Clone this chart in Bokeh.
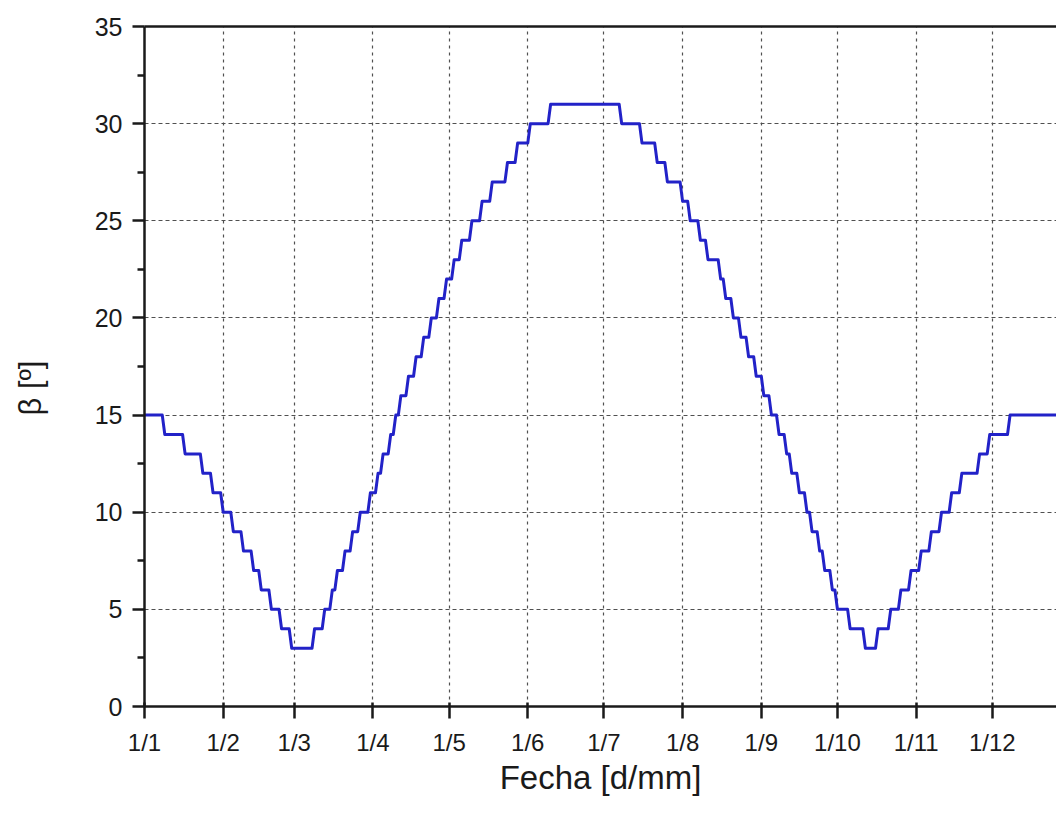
from bokeh.plotting import figure
from bokeh.models import Range1d, FixedTicker, LinearAxis, ColumnDataSource
from bokeh.embed import file_html
from bokeh.resources import INLINE

# Month ticks (day of year, Jan 1 = 0) and labels
month_days = [0, 31, 59, 90, 120, 151, 181, 212, 243, 273, 304, 334]
month_labels = ["1/1", "1/2", "1/3", "1/4", "1/5", "1/6", "1/7", "1/8", "1/9", "1/10", "1/11", "1/12"]

# Step levels of beta: value, first day and last day at that value
level_beta = [15, 14, 13, 12, 11, 10, 9, 8, 7, 6, 5, 4, 3,
              4, 5, 6, 7, 8, 9, 10, 11, 12, 13, 14, 15, 16, 17, 18, 19, 20, 21, 22, 23, 24, 25, 26, 27, 28, 29, 30, 31,
              30, 29, 28, 27, 26, 25, 24, 23, 22, 21, 20, 19, 18, 17, 16, 15, 14, 13, 12, 11, 10, 9, 8, 7, 6, 5, 4, 3,
              4, 5, 6, 7, 8, 9, 10, 11, 12, 13, 14, 15]
level_start = [0, 8, 16, 23, 27, 31, 35, 39, 43, 46, 50, 54, 58,
               67, 71, 74, 76, 79, 82, 85, 89, 92, 94, 97, 99, 101, 104, 107, 110, 113, 116, 119, 122, 125, 129, 133, 137, 143, 147, 152, 160,
               188, 196, 202, 206, 212, 215, 219, 222, 227, 229, 232, 235, 238, 241, 244, 247, 250, 253, 255, 258, 261, 263, 266, 268, 271, 273, 278, 284,
               289, 294, 298, 302, 306, 310, 314, 318, 322, 329, 333, 341]
level_end = [7, 15, 22, 26, 30, 34, 38, 42, 45, 49, 53, 57, 66,
             70, 73, 75, 78, 81, 84, 88, 91, 93, 96, 98, 100, 103, 106, 109, 112, 115, 118, 121, 124, 128, 132, 136, 142, 146, 151, 159, 187,
             195, 201, 205, 211, 214, 218, 221, 226, 228, 231, 234, 237, 240, 243, 246, 249, 252, 254, 257, 260, 262, 265, 267, 270, 272, 277, 283, 288,
             293, 297, 301, 305, 309, 313, 317, 321, 328, 332, 340, 364]

y_ticks = [0, 5, 10, 15, 20, 25, 30, 35]
y_minor = [2.5, 7.5, 12.5, 17.5, 22.5, 27.5, 32.5]

xs, ys = [], []
for b, s, e in zip(level_beta, level_start, level_end):
    xs += [s, e]
    ys += [b, b]
src = ColumnDataSource(dict(x=xs, y=ys))

FONT = "Liberation Sans"
INK = "#1a1a1a"
W, H = 1056, 801
p = figure(width=W, height=H, output_backend="svg", toolbar_location=None,
           x_range=Range1d(0, 359.3), y_range=Range1d(0, 35),
           min_border_left=144, min_border_right=0, min_border_top=26, min_border_bottom=95,
           background_fill_color="white", border_fill_color="white")
p.outline_line_color = None

p.line("x", "y", source=src, line_color="#2222c8", line_width=3, line_join="round")

# x axis
xa = p.xaxis[0]
xa.ticker = FixedTicker(ticks=month_days)
xa.major_label_overrides = {d: l for d, l in zip(month_days, month_labels)}
xa.major_label_text_font = FONT
xa.major_label_text_font_size = "24px"
xa.major_label_text_color = INK
xa.major_label_standoff = 10
xa.major_tick_in = 4
xa.major_tick_out = 12
xa.minor_tick_in = 0
xa.minor_tick_out = 0
xa.axis_line_width = 2.5
xa.major_tick_line_width = 2.5
xa.axis_line_color = INK
xa.major_tick_line_color = INK
xa.axis_label = "Fecha [d/mm]"
xa.axis_label_text_font = FONT
xa.axis_label_text_font_size = "33px"
xa.axis_label_text_font_style = "normal"
xa.axis_label_text_color = INK
xa.axis_label_standoff = 0

# y axis
ya = p.yaxis[0]
ya.ticker = FixedTicker(ticks=y_ticks, minor_ticks=y_minor)
ya.major_label_text_font = FONT
ya.major_label_text_font_size = "25px"
ya.major_label_text_color = INK
ya.major_label_standoff = 10
ya.major_tick_in = 0
ya.major_tick_out = 12
ya.minor_tick_in = 0
ya.minor_tick_out = 7
ya.axis_line_width = 2.5
ya.major_tick_line_width = 2.5
ya.minor_tick_line_width = 2.5
ya.axis_line_color = INK
ya.major_tick_line_color = INK
ya.minor_tick_line_color = INK
ya.axis_label = "β [º]\u00a0\u00a0\u00a0\u00a0\u00a0"
ya.axis_label_text_font = FONT
ya.axis_label_text_font_size = "31px"
ya.axis_label_text_font_style = "normal"
ya.axis_label_text_color = INK
ya.axis_label_standoff = 44

# top frame line
top = LinearAxis(ticker=FixedTicker(ticks=[]), major_label_text_font_size="0px",
                 major_tick_in=0, major_tick_out=0, minor_tick_in=0, minor_tick_out=0,
                 axis_line_width=2.5, axis_line_color=INK)
p.add_layout(top, "above")

# grids
p.xgrid.ticker = FixedTicker(ticks=month_days)
p.xgrid.grid_line_color = "#505050"
p.xgrid.grid_line_dash = "3 4"
p.xgrid.grid_line_width = 1.2
p.ygrid.ticker = FixedTicker(ticks=y_ticks)
p.ygrid.grid_line_color = "#505050"
p.ygrid.grid_line_dash = "4 3"
p.ygrid.grid_line_width = 1.2

open("out.html", "w").write(file_html(p, INLINE))
